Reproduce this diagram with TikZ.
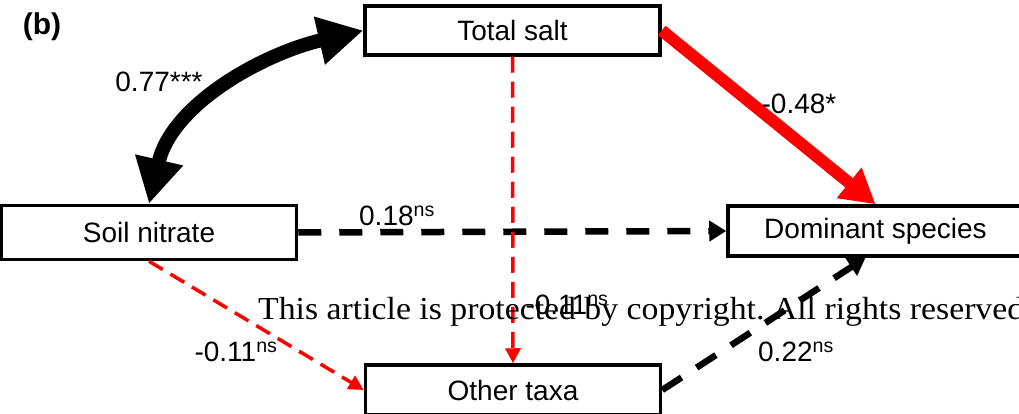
\documentclass[tikz,border=0pt]{standalone}
\usepackage{fontspec}
\setmainfont{Liberation Sans}
\newfontfamily\wmfont[FakeStretch=1.055]{Liberation Serif}
\usetikzlibrary{arrows.meta}
\tikzset{
  var/.style={draw,line width=3.5pt,minimum width=295pt,minimum height=50pt,inner sep=0pt,font=\fontsize{28}{30}\selectfont},
  lab/.style={font=\fontsize{28}{30}\selectfont,inner sep=0pt},
  corr/.style={{Triangle[length=45pt,width=46pt]}-{Triangle[length=45pt,width=46pt]},line width=14pt},
  sig/.style={-{Triangle[length=34pt,width=37pt]},line width=12pt,red},
  nsblack/.style={-{Triangle[length=17pt,width=20pt]},line width=6.5pt,dash pattern=on 23pt off 18pt},
  nsred/.style={-{Triangle[length=15pt,width=15pt]},line width=3.5pt,red,dash pattern=on 16pt off 9pt}
}

\begin{document}
\begin{tikzpicture}[x=1pt,y=-1pt]
\useasboundingbox (0,0) rectangle (1019,414);
\clip (0,0) rectangle (1019,414);
% variables
\node[var,minimum height=49pt] (TS) at (512.5,30.5) {Total salt};
\node[var,minimum height=54pt] (SN) at (149,232.5) {Soil nitrate};
\node[var] (DS) at (875.5,231) {Dominant species};
\node[var] (OT) at (513,390) {Other taxa};
\node[font=\bfseries\fontsize{30}{32}\selectfont,inner sep=0pt] (tag) at (42,27) {(b)};
% paths
\draw[corr] (TS.west) to[out=193,in=77,looseness=0.95] (SN.north);
\draw[sig] (TS.east) -- (DS.north);
\draw[nsblack] (SN.east) -- (DS.west);
\draw[nsred] (TS.south) -- (OT.north);
\draw[nsred] (SN.south) -- (OT.west);
\draw[nsblack] (OT.east) -- ([xshift=-10pt]DS.south);
% coefficients
\node[lab] (c1) at (159,82) {0.77***};
\node[lab] (c2) at (799,104) {-0.48*};
\node[lab] (c3) at (397,216) {0.18\textsuperscript{ns}};
\node[lab] (c4) at (236,352) {-0.11\textsuperscript{ns}};
\node[lab] (c5) at (567,305) {-0.11\textsuperscript{ns}};
\node[lab] (c6) at (796,352) {0.22\textsuperscript{ns}};
% watermark
\node[anchor=base west,inner sep=0pt,font=\wmfont\fontsize{32}{34}\selectfont\frenchspacing] (wm) at (258,319) {This article is protected by copyright. All rights reserved.};
\end{tikzpicture}
\end{document}
